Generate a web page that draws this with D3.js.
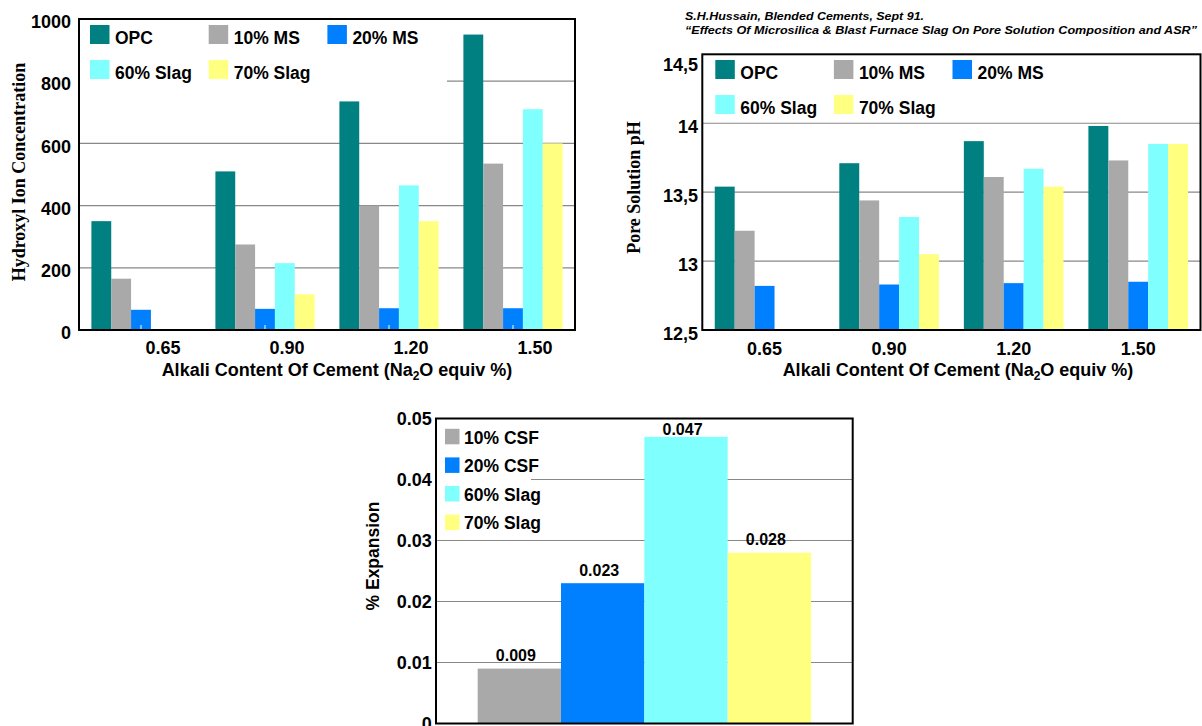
<!DOCTYPE html>
<html>
<head>
<meta charset="utf-8">
<script src="https://cdn.jsdelivr.net/npm/d3@7"></script>
<style>
  html, body { margin: 0; padding: 0; background: #fff; }
  svg { display: block; }
</style>
</head>
<body>
<div id="chart"></div>
<script>
// ---------------- DATA ----------------
const alkaliCategories = ["0.65", "0.90", "1.20", "1.50"];
const mixSeries = ["OPC", "10% MS", "20% MS", "60% Slag", "70% Slag"];

// Hydroxyl ion concentration (top-left chart)
const hydroxylOPC     = [350, 510, 735, 950];
const hydroxyl10MS    = [165, 275, 400, 535];
const hydroxyl20MS    = [65, 68, 70, 70];
const hydroxyl60Slag  = [null, 215, 465, 710];
const hydroxyl70Slag  = [null, 115, 350, 600];
const hydroxylTicks      = [0, 200, 400, 600, 800, 1000];
const hydroxylTickLabels = ["0", "200", "400", "600", "800", "1000"];

// Pore solution pH (top-right chart)
const phOPC    = [13.54, 13.71, 13.87, 13.98];
const ph10MS   = [13.22, 13.44, 13.61, 13.73];
const ph20MS   = [12.82, 12.83, 12.84, 12.85];
const ph60Slag = [null, 13.32, 13.67, 13.85];
const ph70Slag = [null, 13.05, 13.54, 13.85];
const phTicks      = [12.5, 13, 13.5, 14, 14.5];
const phTickLabels = ["12,5", "13", "13,5", "14", "14,5"];

// % Expansion (bottom chart)
const expansionSeries = ["10% CSF", "20% CSF", "60% Slag", "70% Slag"];
const expansionValues = [0.009, 0.023, 0.047, 0.028];
const expansionValueLabels = ["0.009", "0.023", "0.047", "0.028"];
const expansionTicks      = [0, 0.01, 0.02, 0.03, 0.04, 0.05];
const expansionTickLabels = ["0", "0.01", "0.02", "0.03", "0.04", "0.05"];

const sourceLines = [
  "S.H.Hussain, Blended Cements, Sept 91.",
  "\u201CEffects Of Microsilica & Blast Furnace Slag On Pore Solution Composition and ASR\u201D"
];

// ---------------- STYLE ----------------
const SANS = "'Liberation Sans', Arial, Helvetica, sans-serif";
const SERIF = "'Liberation Serif', 'Times New Roman', serif";
const colorOf = {
  "OPC": "#008080",
  "10% MS": "#A9A9A9",
  "20% MS": "#0080FF",
  "60% Slag": "#80FFFF",
  "70% Slag": "#FFFF80",
  "10% CSF": "#A9A9A9",
  "20% CSF": "#0080FF"
};
const GRID = "#888888";

const W = 1202, H = 726;
const svg = d3.select("#chart").append("svg")
  .attr("width", W).attr("height", H)
  .attr("viewBox", `0 0 ${W} ${H}`);
svg.append("rect").attr("width", W).attr("height", H).attr("fill", "#fff");

function styleText(sel, size, weight = "bold", family = SANS) {
  sel.attr("font-family", family).attr("font-size", size)
     .attr("font-weight", weight).attr("fill", "#000");
}

function xTitle(x, y) {
  const t = svg.append("text").attr("x", x).attr("y", y).attr("text-anchor", "middle");
  styleText(t, 18);
  t.append("tspan").text("Alkali Content Of Cement (Na");
  t.append("tspan").attr("font-size", 12).attr("dy", 4).text("2");
  t.append("tspan").attr("dy", -4).text("O equiv %)");
}

function drawGrouped(opt) {
  const { box, values, ticks, tickLabels, yDy, yPad, xPad, xShift, whiteTicks, legend } = opt;
  const g = svg.append("g");
  const x0 = d3.scaleBand().domain(alkaliCategories).range([box.l, box.r]);
  const bw = x0.bandwidth();
  const x1 = d3.scaleBand().domain(mixSeries).range([bw * 0.1, bw * 0.9]);
  const y = d3.scaleLinear().domain([ticks[0], ticks[ticks.length - 1]]).range([box.b, box.t]);

  // gridlines
  g.append("g").selectAll("line")
    .data(ticks.slice(1, -1))
    .join("line")
    .attr("x1", box.l).attr("x2", box.r)
    .attr("y1", d => y(d)).attr("y2", d => y(d))
    .attr("stroke", GRID).attr("stroke-width", 1.2);

  // legend background
  g.append("rect")
    .attr("x", box.l + 1).attr("y", box.t + 1)
    .attr("width", legend.bgW).attr("height", legend.bgH)
    .attr("fill", "#fff");

  // bars
  const flat = alkaliCategories.flatMap((c, ci) =>
    mixSeries.map((s, si) => ({ c, s, v: values[si][ci] })))
    .filter(d => d.v != null);
  g.append("g").selectAll("rect")
    .data(flat)
    .join("rect")
    .attr("x", d => x0(d.c) + x1(d.s))
    .attr("width", x1.bandwidth())
    .attr("y", d => y(d.v))
    .attr("height", d => box.b - y(d.v))
    .attr("fill", d => colorOf[d.s]);

  // white inner ticks
  if (whiteTicks) {
    const gt = g.append("g").attr("transform", `translate(0,${box.b})`)
      .call(d3.axisBottom(x0).tickSize(-5).tickFormat(""));
    gt.select(".domain").remove();
    gt.selectAll("line").attr("stroke", "#fff").attr("stroke-width", 1);
  }

  // frame
  g.append("rect")
    .attr("x", box.l).attr("y", box.t)
    .attr("width", box.r - box.l).attr("height", box.b - box.t)
    .attr("fill", "none").attr("stroke", "#000").attr("stroke-width", 2);

  // y axis
  const gy = g.append("g").attr("transform", `translate(${box.l},0)`)
    .call(d3.axisLeft(y).tickValues(ticks)
      .tickFormat(d => tickLabels[ticks.indexOf(d)])
      .tickSize(0).tickPadding(yPad));
  gy.select(".domain").remove();
  gy.selectAll("text").call(styleText, 18).attr("dy", yDy);
  if (opt.topDy) {
    gy.selectAll(".tick").filter(d => d === ticks[ticks.length - 1])
      .select("text").attr("dy", opt.topDy);
  }

  // x axis
  const gx = g.append("g").attr("transform", `translate(0,${box.b})`)
    .call(d3.axisBottom(x0).tickSize(0).tickPadding(xPad));
  gx.select(".domain").remove();
  gx.selectAll("text").call(styleText, 18).attr("dx", xShift);

  // legend
  const lg = g.append("g");
  mixSeries.forEach((s, i) => {
    const col = i < 3 ? i : i - 3;
    const row = i < 3 ? 0 : 1;
    const sx = box.l + legend.dx + col * legend.colW;
    const sy = box.t + legend.dy + row * legend.rowH;
    lg.append("rect").attr("x", sx).attr("y", sy)
      .attr("width", 19.5).attr("height", 19).attr("fill", colorOf[s]);
    lg.append("text").attr("x", sx + 25).attr("y", sy + 19.2)
      .text(s).call(styleText, 17.5);
  });
}

// ---------------- CHART 1 ----------------
drawGrouped({
  box: { l: 79, r: 575, t: 19, b: 330 },
  values: [hydroxylOPC, hydroxyl10MS, hydroxyl20MS, hydroxyl60Slag, hydroxyl70Slag],
  ticks: hydroxylTicks, tickLabels: hydroxylTickLabels,
  yDy: "0.48em", yPad: 8, xPad: 11, xShift: 22, whiteTicks: true,
  legend: { dx: 11, dy: 6, colW: 118.7, rowH: 35, bgW: 367, bgH: 67 }
});
svg.append("text")
  .attr("transform", "translate(25,172) rotate(-90)")
  .attr("text-anchor", "middle")
  .text("Hydroxyl Ion Concentration")
  .call(styleText, 18, "bold", SERIF);
xTitle(337, 376);

// ---------------- CHART 2 ----------------
drawGrouped({
  box: { l: 702.3, r: 1200.5, t: 54.3, b: 330 },
  values: [phOPC, ph10MS, ph20MS, ph60Slag, ph70Slag],
  ticks: phTicks, tickLabels: phTickLabels,
  yDy: "0.5em", topDy: "0.9em", yPad: 4.3, xPad: 12, xShift: 0, whiteTicks: false,
  legend: { dx: 13, dy: 5.7, colW: 118.6, rowH: 35, bgW: 300, bgH: 60 }
});
svg.append("text")
  .attr("transform", "translate(640,187.5) rotate(-90)")
  .attr("text-anchor", "middle")
  .text("Pore Solution pH")
  .call(styleText, 18, "bold", SERIF);
xTitle(958, 376);

// source text
svg.append("text").attr("x", 685).attr("y", 20)
  .attr("textLength", 239).attr("lengthAdjust", "spacingAndGlyphs")
  .attr("font-style", "italic").text(sourceLines[0]).call(styleText, 11.8);
svg.append("text").attr("x", 685).attr("y", 33.5)
  .attr("textLength", 512).attr("lengthAdjust", "spacingAndGlyphs")
  .attr("font-style", "italic").text(sourceLines[1]).call(styleText, 11.8);

// ---------------- CHART 3 ----------------
(function () {
  const box = { l: 436, r: 852.7, t: 418.5, b: 723.5 };
  const g = svg.append("g");
  const x = d3.scaleBand().domain(expansionSeries).range([box.l, box.r])
    .paddingInner(0).paddingOuter(0.5);
  const y = d3.scaleLinear().domain([0, 0.05]).range([box.b, box.t]);

  g.append("g").selectAll("line")
    .data(expansionTicks.slice(1, -1))
    .join("line")
    .attr("x1", box.l).attr("x2", box.r)
    .attr("y1", d => y(d)).attr("y2", d => y(d))
    .attr("stroke", GRID).attr("stroke-width", 1.2);

  g.append("rect").attr("x", box.l + 1).attr("y", box.t + 1)
    .attr("width", 94).attr("height", 114).attr("fill", "#fff");

  const data = expansionSeries.map((s, i) => ({ s, v: expansionValues[i], lab: expansionValueLabels[i] }));
  g.append("g").selectAll("rect")
    .data(data).join("rect")
    .attr("x", d => x(d.s)).attr("width", x.bandwidth())
    .attr("y", d => y(d.v)).attr("height", d => box.b - y(d.v))
    .attr("fill", d => colorOf[d.s]);

  g.append("g").selectAll("text")
    .data(data).join("text")
    .attr("x", d => x(d.s) + x.bandwidth() / 2 - 3.5)
    .attr("y", d => Math.max(y(d.v) - 7.5, box.t + 16))
    .attr("text-anchor", "middle")
    .text(d => d.lab)
    .call(styleText, 16);

  g.append("rect")
    .attr("x", box.l).attr("y", box.t)
    .attr("width", box.r - box.l).attr("height", box.b - box.t)
    .attr("fill", "none").attr("stroke", "#000").attr("stroke-width", 2);

  const gy = g.append("g").attr("transform", `translate(${box.l},0)`)
    .call(d3.axisLeft(y).tickValues(expansionTicks)
      .tickFormat(d => expansionTickLabels[expansionTicks.indexOf(d)])
      .tickSize(0).tickPadding(4.3));
  gy.select(".domain").remove();
  gy.selectAll("text").call(styleText, 18).attr("dy", "0.36em");

  const lg = g.append("g");
  expansionSeries.forEach((s, i) => {
    const sx = box.l + 9, sy = box.t + 10.3 + i * 28.6;
    lg.append("rect").attr("x", sx).attr("y", sy)
      .attr("width", 14.5).attr("height", 15.5).attr("fill", colorOf[s]);
    lg.append("text").attr("x", sx + 19).attr("y", sy + 14.8)
      .text(s).call(styleText, 17.5);
  });

  svg.append("text")
    .attr("transform", "translate(379,556) rotate(-90)")
    .attr("text-anchor", "middle")
    .text("% Expansion")
    .call(styleText, 17.5);
})();
</script>
</body>
</html>
